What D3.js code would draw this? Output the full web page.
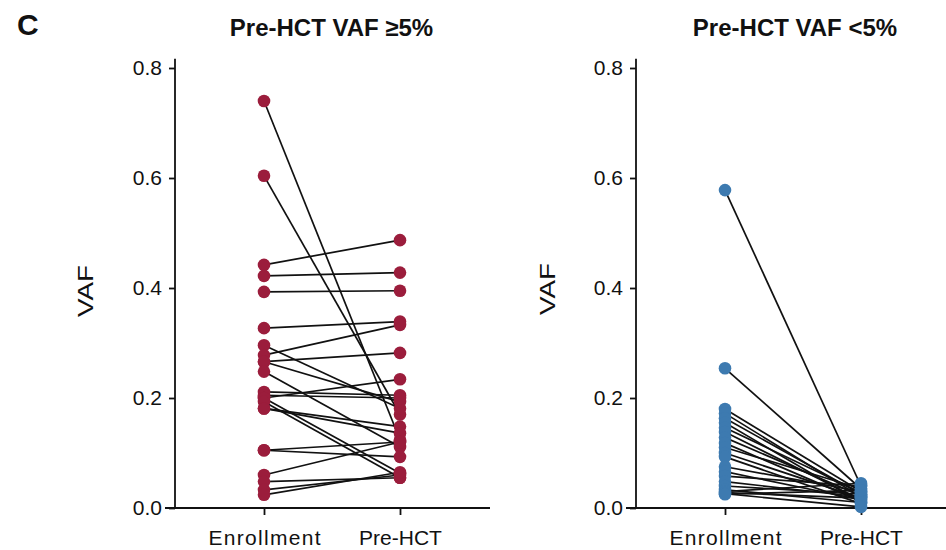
<!DOCTYPE html>
<html>
<head>
<meta charset="utf-8">
<script src="https://cdn.jsdelivr.net/npm/d3@7/dist/d3.min.js"></script>
<style>
  html, body { margin: 0; padding: 0; background: #fff; }
  svg { display: block; }
  text { font-family: "Liberation Sans", Arial, Helvetica, sans-serif; fill: #111; }
</style>
</head>
<body>
<svg id="chart" width="946" height="550"></svg>
<script>
// ---- data ----
const categories = ["Enrollment", "Pre-HCT"];
const yTicks = [0, 0.2, 0.4, 0.6, 0.8];
const panelTitles = ["Pre-HCT VAF \u22655%", "Pre-HCT VAF <5%"];

// Panel 1: Pre-HCT VAF >= 5%  (paired values)
const highEnroll = [0.740, 0.604, 0.442, 0.422, 0.393, 0.327, 0.296, 0.278, 0.266, 0.266, 0.248,
                    0.211, 0.205, 0.200, 0.200, 0.193, 0.181, 0.181, 0.105, 0.105, 0.060, 0.048, 0.033, 0.024];
const highPre    = [0.124, 0.170, 0.487, 0.428, 0.395, 0.339, 0.181, 0.333, 0.282, 0.193, 0.111,
                    0.205, 0.200, 0.234, 0.063, 0.055, 0.148, 0.136, 0.120, 0.093, 0.120, 0.055, 0.060, 0.065];

// Panel 2: Pre-HCT VAF < 5%
const lowEnroll = [0.578, 0.254, 0.180, 0.172, 0.163, 0.155, 0.146, 0.138, 0.128, 0.118, 0.110, 0.100,
                   0.093, 0.075, 0.066, 0.058, 0.048, 0.040, 0.033, 0.030, 0.028, 0.026, 0.025];
const lowPre    = [0.040, 0.035, 0.030, 0.020, 0.025, 0.010, 0.028, 0.015, 0.022, 0.012, 0.035, 0.018,
                   0.008, 0.030, 0.015, 0.040, 0.020, 0.025, 0.010, 0.045, 0.018, 0.002, 0.032];

const colors = ["#9b1d3c", "#3d7ab0"];

// ---- drawing ----
const svg = d3.select("#chart");

svg.append("text").attr("x", 17).attr("y", 35)
  .attr("font-size", 30).attr("font-weight", "bold").text("C");

const panels = [
  { left: 175, xStart: 165, xEnd: 490, title: panelTitles[0], titleX: 331.5, labelX: 93, labelY: 291,
    enroll: highEnroll, pre: highPre, color: colors[0] },
  { left: 636, xStart: 626, xEnd: 946, title: panelTitles[1], titleX: 795, labelX: 555, labelY: 289,
    enroll: lowEnroll, pre: lowPre, color: colors[1] }
];

const y = d3.scaleLinear().domain([0, 0.8]).range([508, 68]);

panels.forEach(p => {
  const g = svg.append("g");
  const x = d3.scalePoint().domain(categories).range([p.left + 89, p.left + 225]);

  // title
  g.append("text").attr("x", p.titleX).attr("y", 36).attr("text-anchor", "middle")
    .attr("font-size", 24).attr("font-weight", "bold").text(p.title);

  // y label
  g.append("text")
    .attr("transform", `translate(${p.labelX},${p.labelY}) rotate(-90)`)
    .attr("text-anchor", "middle").attr("font-size", 22)
    .attr("textLength", 52).attr("lengthAdjust", "spacingAndGlyphs")
    .text("VAF");

  // y axis
  const yAxis = d3.axisLeft(y).tickValues(yTicks).tickFormat(d3.format(".1f"))
    .tickSize(6).tickSizeOuter(0);
  const ya = g.append("g").attr("transform", `translate(${p.left},0)`).call(yAxis);
  ya.select(".domain").remove();
  ya.selectAll(".tick line").attr("stroke", "#111").attr("stroke-width", 1.8);
  ya.selectAll(".tick text").attr("font-size", 21).attr("x", -13)
    .attr("font-family", "Liberation Sans, Arial, sans-serif").attr("fill", "#111");
  g.append("line").attr("x1", p.left).attr("x2", p.left)
    .attr("y1", y(0)).attr("y2", y(0.817))
    .attr("stroke", "#111").attr("stroke-width", 1.8);

  // x axis
  const xAxis = d3.axisBottom(x).tickSize(7).tickSizeOuter(0);
  const xa = g.append("g").attr("transform", `translate(0,${y(0)})`).call(xAxis);
  xa.select(".domain").remove();
  xa.selectAll(".tick line").attr("stroke", "#111").attr("stroke-width", 1.8);
  xa.selectAll(".tick text").attr("font-size", 21).attr("y", 22).attr("dy", "0.71em")
    .attr("font-family", "Liberation Sans, Arial, sans-serif").attr("fill", "#111")
    .each(function(d) { if (d === "Enrollment") d3.select(this).attr("textLength", 112).attr("lengthAdjust", "spacing"); });
  g.append("line").attr("x1", p.xStart).attr("x2", p.xEnd)
    .attr("y1", y(0)).attr("y2", y(0))
    .attr("stroke", "#111").attr("stroke-width", 1.8);

  const pairs = p.enroll.map((v, i) => ({ a: v, b: p.pre[i] }));

  // connecting lines
  g.append("g").selectAll("line").data(pairs).join("line")
    .attr("x1", x(categories[0])).attr("y1", d => y(d.a))
    .attr("x2", x(categories[1])).attr("y2", d => y(d.b))
    .attr("stroke", "#111").attr("stroke-width", 1.7);

  // points
  const pts = [];
  pairs.forEach(d => { pts.push({ c: categories[0], v: d.a }); pts.push({ c: categories[1], v: d.b }); });
  g.append("g").selectAll("circle").data(pts).join("circle")
    .attr("cx", d => x(d.c)).attr("cy", d => y(d.v)).attr("r", 6.3)
    .attr("fill", p.color);
});
</script>
</body>
</html>
